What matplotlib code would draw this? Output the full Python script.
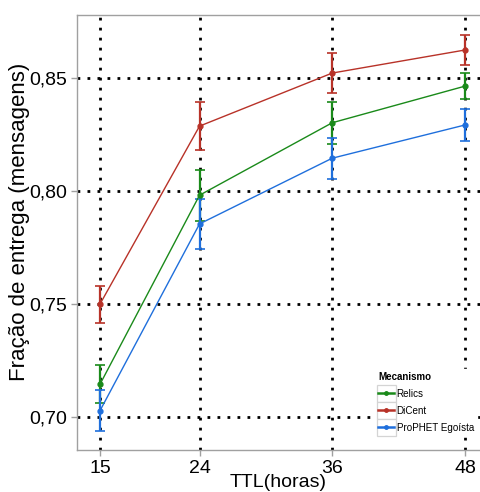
import matplotlib
matplotlib.use("Agg")
import matplotlib.pyplot as plt
from matplotlib.ticker import FuncFormatter
from matplotlib.lines import Line2D
from matplotlib.patches import Rectangle
from matplotlib.legend_handler import HandlerLine2D

plt.rcParams['font.family'] = ['Liberation Sans', 'DejaVu Sans']

ttl = [15, 24, 36, 48]
relics = [0.7145, 0.7982, 0.8303, 0.8465]
relics_err = [0.0085, 0.0112, 0.0094, 0.0056]
dicent = [0.7500, 0.8288, 0.8523, 0.8625]
dicent_err = [0.0082, 0.0105, 0.0090, 0.0067]
prophet = [0.7028, 0.7855, 0.8146, 0.8293]
prophet_err = [0.0091, 0.0112, 0.0091, 0.0072]

names = ["Relics", "DiCent", "ProPHET Egoísta"]
colors = ["#1a8a1a", "#b83228", "#1f6fdc"]
series = [relics, dicent, prophet]
errs = [relics_err, dicent_err, prophet_err]


class BoxedHandler(HandlerLine2D):
    def create_artists(self, legend, orig_handle, xdescent, ydescent, width, height, fontsize, trans):
        arts = super().create_artists(legend, orig_handle, xdescent, ydescent, width, height, fontsize, trans)
        rect = Rectangle((-xdescent - 1, -ydescent - 3), width + 2, height + 6, facecolor="white",
                         edgecolor="#d4d4d4", linewidth=0.9, transform=trans)
        return [rect] + arts


fig = plt.figure(figsize=(4.8, 4.92), dpi=100)
ax = fig.add_axes([0.1604, 0.0854, 0.8396, 0.8841])
ax.set_xlim(12.92, 49.36)
ax.set_ylim(0.6854, 0.878)

ax.grid(True, which="major", color="black", linestyle=(0, (1, 2.6)), linewidth=2.0)
ax.set_axisbelow(True)

handles = []
for y, e, c, n in zip(series, errs, colors, names):
    ax.errorbar(ttl, y, yerr=e, color=c, linewidth=1.0, elinewidth=1.6,
                capsize=3.8, capthick=1.2, marker="o", markersize=3.5, zorder=3)
    handles.append(Line2D([], [], color=c, linewidth=1.8, marker="o", markersize=2.5, label=n))

ax.set_xticks(ttl)
ax.set_yticks([0.70, 0.75, 0.80, 0.85])
ax.yaxis.set_major_formatter(FuncFormatter(lambda v, p: f"{v:.2f}".replace(".", ",")))
for s in ["left", "bottom", "top"]:
    ax.spines[s].set_color("#a0a0a0")
    ax.spines[s].set_linewidth(1.0)
ax.spines["right"].set_visible(False)
ax.tick_params(axis="both", colors="#a0a0a0", labelcolor="black", labelsize=14, length=4, width=1, pad=3)
ax.set_xlabel("TTL(horas)", fontsize=14, labelpad=-2)
ax.set_ylabel("Fração de entrega (mensagens)", fontsize=16)
ax.yaxis.set_label_coords(-0.117, 0.524)

leg = ax.legend(handles=handles, loc="lower left", bbox_to_anchor=(375 / 480, 1 - 436 / 492),
                bbox_transform=fig.transFigure, fontsize=7.1, title="Mecanismo",
                frameon=True, facecolor="white", edgecolor="white", framealpha=1,
                handlelength=1.65, handleheight=0.95, handletextpad=0.25, borderpad=0.3,
                labelspacing=0.72, borderaxespad=0,
                handler_map={Line2D: BoxedHandler()})
leg.get_title().set_fontweight("bold")
leg.get_title().set_fontsize(7.0)
leg._legend_box.align = "left"

fig.savefig("out.png", dpi=100)
